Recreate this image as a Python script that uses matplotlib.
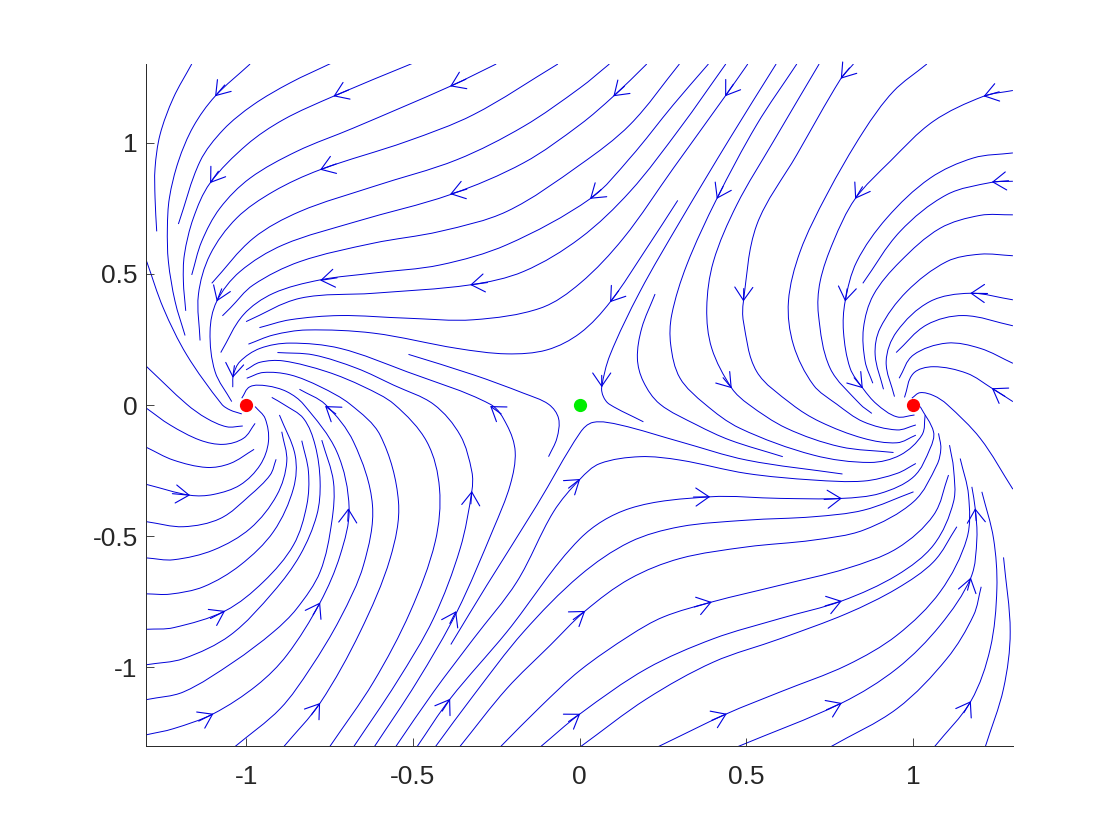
import math
import matplotlib
matplotlib.use('Agg')
import matplotlib.pyplot as plt
from matplotlib.path import Path
from matplotlib.patches import PathPatch

# Streamlines, grouped by where they start
streams_upper_left = [
    [(-1.163, 1.300), (-1.218, 1.171), (-1.258, 1.031), (-1.273, .903), (-1.273, .789), (-1.268, .662)],
    [(-.988, 1.300), (-1.093, 1.177), (-1.158, 1.062), (-1.203, .929), (-1.230, .789), (-1.236, .674), (-1.233, .547), (-1.213, .395), (-1.183, .265)],
    [(-.743, 1.304), (-.868, 1.228), (-.978, 1.145), (-1.068, 1.050), (-1.138, .929), (-1.203, .690)],
    [(-.498, 1.304), (-.738, 1.177), (-.888, 1.088), (-.998, .992), (-1.108, .846), (-1.158, .713), (-1.185, .573), (-1.188, .471), (-1.181, .359)],
    [(-.250, 1.300), (-.388, 1.215), (-.678, 1.056), (-.848, .967), (-.988, .865), (-1.078, .751), (-1.133, .624), (-1.163, .496)],
    [(-.065, 1.300), (-.318, 1.107), (-.518, 1.005), (-.778, .897), (-.918, .814), (-1.028, .713), (-1.108, .573), (-1.143, .420), (-1.138, .246)],
    [(.0895, 1.300), (.0015, 1.209), (-.168, 1.062), (-.368, .935), (-.618, .833), (-.838, .738), (-.978, .636), (-1.103, .464)],
    [(.2015, 1.300), (.1015, 1.177), (.0015, 1.069), (-.168, .923), (-.388, .802), (-.668, .700), (-.888, .611), (-1.018, .509), (-1.088, .395), (-1.108, .280), (-1.093, .127), (-1.043, .013)],
    [(.2995, 1.300), (.1515, 1.069), (.0015, .916), (-.218, .738), (-.418, .662), (-.618, .617), (-.838, .547), (-.978, .458), (-1.048, .369), (-1.071, .340)],
    [(.3865, 1.300), (.2815, 1.145), (.1515, .942), (.0315, .786), (-.218, .611), (-.418, .534), (-.618, .503), (-.778, .477), (-.918, .426), (-1.008, .344), (-1.076, .200)],
    [(.4385, 1.300), (.3015, 1.056), (.1515, .814), (.0015, .636), (-.168, .509), (-.328, .458), (-.618, .426), (-.838, .407), (-1.000, .318)],
    [(.5045, 1.300), (.4365, 1.177), (.2815, .903), (.1315, .636), (.0015, .464), (-.118, .369), (-.318, .325), (-.518, .331), (-.718, .341), (-.868, .325), (-.960, .295)],
    [(.2945, .780), (.2015, .598), (.0915, .392), (.0015, .274), (-.098, .210), (-.218, .195), (-.368, .216), (-.618, .274), (-.818, .286), (-.918, .267), (-.993, .232)],
    [(-.513, .193), (-.318, .115), (-.168, .045), (-.093, .003), (-.063, -.051), (-.068, -.127), (-.093, -.197)],
    [(-1.298, .547), (-1.248, .369), (-1.178, .191), (-1.073, .003), (-1.048, -.019), (-1.013, -.034)],
    [(-1.298, .146), (-1.178, .003), (-1.118, -.051), (-1.058, -.083), (-1.010, -.080)],
]

# these come out of the -1 sink region and run down to the bottom or left edge
streams_lower_left = [
    [(-1.040, .068), (-1.038, .115), (-1.018, .166), (-.958, .216), (-.868, .236), (-.718, .216), (-.518, .127), (-.268, .003), (-.218, -.076), (-.193, -.178), (-.208, -.305), (-.258, -.471), (-.368, -.789), (-.488, -1.056), (-.616, -1.304)],
    [(-.906, .200), (-.798, .191), (-.668, .140), (-.558, .076), (-.438, .003), (-.358, -.115), (-.323, -.254), (-.323, -.328), (-.358, -.547), (-.438, -.814), (-.548, -1.056), (-.678, -1.304)],
    [(-1.000, .134), (-.958, .163), (-.888, .168), (-.758, .127), (-.648, .070), (-.556, .003), (-.458, -.140), (-.420, -.318), (-.433, -.522), (-.508, -.789), (-.618, -1.056), (-.750, -1.304)],
    [(-.998, .102), (-.948, .124), (-.868, .115), (-.778, .070), (-.688, .003), (-.598, -.115), (-.543, -.369), (-.568, -.585), (-.658, -.865), (-.778, -1.136), (-.888, -1.304)],
    [(-.840, .060), (-.763, .003), (-.678, -.140), (-.621, -.382), (-.648, -.611), (-.718, -.814), (-.808, -1.005), (-.898, -1.158), (-1.035, -1.304)],
    [(-1.013, .026), (-.988, .070), (-.938, .073), (-.878, .051), (-.828, .003), (-.728, -.178), (-.691, -.394), (-.718, -.573), (-.778, -.753), (-.878, -.954), (-.968, -1.069), (-1.098, -1.177), (-1.218, -1.234), (-1.298, -1.257)],
    [(-.923, .029), (-.888, .003), (-.828, -.051), (-.793, -.153), (-.778, -.293), (-.788, -.420), (-.838, -.572), (-.918, -.712), (-1.048, -.878), (-1.188, -.967), (-1.298, -.990)],
    [(-1.298, -.013), (-1.228, -.076), (-1.138, -.134), (-1.068, -.150), (-1.008, -.127), (-.973, -.070)],
    [(-1.298, -.162), (-1.218, -.210), (-1.118, -.238), (-1.048, -.223), (-.976, -.169)],
    [(-1.298, -.303), (-1.168, -.344), (-1.098, -.341), (-1.018, -.305), (-.958, -.229), (-.933, -.140), (-.943, -.051), (-.973, -.006)],
    [(-1.298, -.445), (-1.188, -.464), (-1.078, -.433), (-.988, -.344), (-.928, -.267), (-.910, -.207)],
    [(-1.298, -.583), (-1.218, -.590), (-1.098, -.553), (-.988, -.471), (-.908, -.344), (-.878, -.216), (-.893, -.102)],
    [(-1.298, -.720), (-1.228, -.721), (-1.128, -.693), (-1.018, -.611), (-.918, -.483), (-.858, -.318), (-.853, -.191), (-.900, -.038)],
    [(-1.298, -.855), (-1.218, -.849), (-1.063, -.785), (-.948, -.674), (-.858, -.534), (-.818, -.382), (-.813, -.254), (-.833, -.136)],
    [(-1.298, -1.123), (-1.188, -1.094), (-1.038, -.980), (-.918, -.865), (-.848, -.776), (-.778, -.636), (-.743, -.445), (-.738, -.293), (-.773, -.134)],
]

streams_lower_right = [
    [(-.386, -.913), (-.278, -.687), (-.128, -.382), (.002, -.105), (.0415, -.066), (.1215, -.076), (.3015, -.140), (.5015, -.210), (.7885, -.263)],
    [(-.552, -1.304), (-.438, -1.094), (-.318, -.891), (-.188, -.674), (-.078, -.407), (.002, -.282), (.0615, -.223), (.1815, -.197), (.3015, -.210), (.5015, -.261), (.7015, -.286), (.8515, -.290), (.9515, -.261), (1.0085, -.223)],
    [(-.488, -1.304), (-.388, -1.120), (-.218, -.865), (.002, -.509), (.1515, -.394), (.3915, -.350), (.6015, -.356), (.7865, -.356), (.9015, -.337), (1.0015, -.274), (1.0515, -.165), (1.0615, -.102), (1.0215, -.006)],
    [(-.433, -1.304), (-.318, -1.107), (-.168, -.865), (.002, -.649), (.1515, -.522), (.3015, -.464), (.5015, -.439), (.7015, -.426), (.8515, -.401), (1.0015, -.331)],
    [(-.360, -1.304), (-.218, -1.081), (-.088, -.916), (.017, -.785), (.1515, -.662), (.3015, -.585), (.5015, -.541), (.7015, -.515), (.8515, -.477), (1.0015, -.369), (1.0715, -.229), (1.0835, -.165), (1.0765, -.108)],
    [(-.238, -1.304), (-.118, -1.151), (.002, -1.011), (.1515, -.878), (.2515, -.808), (.3965, -.751), (.6015, -.687), (.8015, -.623), (.9515, -.547), (1.0615, -.420), (1.1065, -.267)],
    [(-.118, -1.304), (.002, -1.177), (.2015, -1.005), (.4015, -.891), (.6015, -.814), (.7865, -.747), (.9515, -.649), (1.0615, -.534), (1.1215, -.369), (1.1215, -.242), (1.1095, -.153)],
    [(.0015, -1.304), (.2015, -1.120), (.4015, -.980), (.6015, -.891), (.8015, -.795), (.9515, -.700), (1.0615, -.598), (1.1315, -.464)],
    [(.2335, -1.304), (.4415, -1.177), (.6015, -1.094), (.8015, -.992), (.9515, -.878), (1.0815, -.712), (1.1615, -.509), (1.1665, -.344), (1.1415, -.204)],
    [(.4715, -1.304), (.7865, -1.136), (.9515, -1.005), (1.0815, -.840), (1.1735, -.658), (1.1915, -.509), (1.1865, -.394), (1.1765, -.312)],
    [(.7515, -1.304), (.9515, -1.158), (1.1015, -.967), (1.1815, -.802), (1.2045, -.693)],
    [(1.0635, -1.304), (1.1735, -1.129), (1.2315, -.929), (1.2515, -.700), (1.2415, -.509), (1.2065, -.331)],
    [(1.2165, -1.304), (1.2715, -1.081), (1.2915, -.865), (1.2715, -.581)],
]

streams_upper_right = [
    [(.5895, 1.300), (.4515, 1.018), (.3015, .700), (.1815, .433), (.0915, .191), (.0665, .068), (.0715, .032), (.0895, .003), (.1915, -.064)],
    [(.2265, .423), (.1865, .293), (.1735, .178), (.1915, .089), (.2415, .003), (.3515, -.076), (.4515, -.134), (.6095, -.197)],
    [(.6515, 1.300), (.5315, 1.069), (.4115, .786), (.3215, .534), (.2765, .344), (.2735, .229), (.3015, .102), (.3765, .003), (.4815, -.089), (.7015, -.191), (.8715, -.219), (.9615, -.191), (1.0265, -.115), (1.0365, -.038)],
    [(.7185, 1.300), (.5815, 1.005), (.4715, .763), (.4015, .547), (.3815, .369), (.3965, .216), (.4565, .064), (.5065, .003), (.6215, -.089), (.7815, -.159), (.9415, -.181)],
    [(.8215, 1.300), (.7835, 1.244), (.6515, .954), (.5315, .687), (.4915, .395), (.4915, .318), (.5315, .127), (.6365, .003), (.7215, -.064), (.8515, -.127), (.9515, -.144), (1.0085, -.115)],
    [(1.0415, 1.300), (.9415, 1.196), (.8515, 1.043), (.7415, .802), (.6615, .585), (.6265, .395), (.6415, .229), (.7015, .076), (.7715, .003), (.8515, -.064), (.9515, -.095), (1.0085, -.076)],
    [(1.2995, 1.199), (1.2115, 1.177), (1.0615, 1.082), (.9315, .929), (.8265, .786), (.7615, .624), (.7215, .471), (.7165, .344), (.7515, .140), (.8415, .003), (.8765, -.032)],
    [(1.2995, .961), (1.1815, .942), (1.0515, .865), (.9215, .713), (.8315, .547), (.7965, .395), (.7915, .280), (.8115, .140), (.8495, .064), (.8915, .003), (.9515, -.045), (1.0045, -.038)],
    [(1.2995, .853), (1.2365, .849), (1.1015, .802), (.9615, .662), (.8495, .464)],
    [(1.2995, .725), (1.2015, .723), (1.0815, .674), (.9615, .547), (.8815, .420), (.8515, .293), (.8565, .166), (.8795, .083)],
    [(1.2995, .569), (1.2015, .575), (1.1015, .547), (.9815, .433), (.9015, .293), (.8865, .191), (.9115, .060)],
    [(1.2995, .401), (1.1715, .426), (1.0515, .395), (.9515, .280), (.9195, .166), (.9445, .032)],
    [(1.2995, .302), (1.1515, .341), (1.0415, .306), (.9495, .200)],
    [(1.2995, .159), (1.2015, .216), (1.1015, .236), (1.0015, .191), (.9585, .102)],
    [(1.2995, .013), (1.2365, .064), (1.1615, .121), (1.0615, .146), (1.0015, .121), (.9745, .029)],
    [(.9965, .026), (1.0215, .047), (1.0615, .036), (1.1015, .003), (1.2015, -.127), (1.2995, -.321)],
]

# Arrow heads on the streamlines: tip and a point just behind it
arrow_tips = [
    (-1.093, 1.177), (-1.108, .846), (-.738, 1.177), (-.778, .897), (-.388, 1.215), (-.388, .804), (-.778, .475), (-.328, .458), (-1.088, .395), (-1.040, .104),
    (.1015, 1.177), (.4365, 1.177), (.7835, 1.244), (1.2115, 1.177), (.0315, .786), (.4115, .786), (.8265, .786), (1.2365, .850), (.0915, .392), (.4915, .395), (.7965, .395), (1.1715, .426), (.0665, .068), (.4565, .064), (.8495, .064), (1.2365, .064),
    (-.763, -.004), (-.268, -.004), (-1.168, -.344), (-.323, -.328), (-.693, -.394), (-1.063, -.785), (-.778, -.753), (-.370, -.786), (.002, -.282), (.017, -.785), (-1.098, -1.177), (-.778, -1.136), (-.388, -1.120), (.002, -1.177),
    (.3915, -.350), (.7865, -.356), (.3965, -.751), (.7865, -.747), (.4415, -1.177), (.7865, -1.136), (1.1865, -.394), (1.1735, -.658), (1.1735, -1.129),
]
arrow_tails = [
    (-1.064, 1.220), (-1.083, .891), (-.693, 1.201), (-.730, .919), (-.341, 1.242), (-.338, .823), (-.727, .485), (-.276, .467), (-1.073, .443), (-1.035, .150),
    (.1345, 1.215), (.4615, 1.223), (.8095, 1.285), (1.2585, 1.194), (.0655, .822), (.4305, .833), (.8485, .832), (1.2865, .855), (.1175, .436), (.4925, .444), (.8025, .443), (1.2235, .425), (.0665, .113), (.4305, .104), (.8235, .104), (1.2755, .033),
    (-.731, -.034), (-.235, -.034), (-1.221, -.338), (-.326, -.377), (-.695, -.443), (-1.107, -.814), (-.799, -.800), (-.389, -.833), (-.033, -.317), (-.019, -.818), (-1.142, -1.205), (-.804, -1.181), (-.412, -1.167), (-.033, -1.207),
    (.3415, -.351), (.7335, -.360), (.3445, -.770), (.7365, -.766), (.3965, -1.202), (.7405, -1.162), (1.1895, -.441), (1.1635, -.706), (1.1525, -1.173),
]

sink_x = [-1, 1]
sink_y = [0, 0]
saddle_x = [0]
saddle_y = [0]

x_ticks = [-1, -0.5, 0, 0.5, 1]
x_tick_labels = ['-1', '-0.5', '0', '0.5', '1']
y_ticks = [-1, -0.5, 0, 0.5, 1]
y_tick_labels = ['-1', '-0.5', '0', '0.5', '1']


# Smooth curve through the read points, tangents sized by the segment length
def stream_path(points):
    verts = [points[0]]
    codes = [Path.MOVETO]
    n = len(points)
    for i in range(n - 1):
        p0 = points[max(i - 1, 0)]
        p1 = points[i]
        p2 = points[i + 1]
        p3 = points[min(i + 2, n - 1)]
        seg = math.dist(p1, p2) / 3
        d1 = math.dist(p0, p2)
        d2 = math.dist(p1, p3)
        verts.append((p1[0] + (p2[0] - p0[0]) / d1 * seg, p1[1] + (p2[1] - p0[1]) / d1 * seg))
        verts.append((p2[0] - (p3[0] - p1[0]) / d2 * seg, p2[1] - (p3[1] - p1[1]) / d2 * seg))
        verts.append(p2)
        codes += [Path.CURVE4, Path.CURVE4, Path.CURVE4]
    return Path(verts, codes)


plt.rcParams['font.family'] = ['Liberation Sans', 'DejaVu Sans']

fig = plt.figure(figsize=(11.2, 8.4), dpi=100)
ax = fig.add_axes([0.1304, 0.1119, 0.7741, 0.8119])

for group in [streams_upper_left, streams_lower_left, streams_lower_right, streams_upper_right]:
    for points in group:
        ax.add_patch(PathPatch(stream_path(points), facecolor='none', edgecolor='#0000d8', linewidth=0.7))

for tip, tail in zip(arrow_tips, arrow_tails):
    ax.annotate('', xy=tip, xytext=tail,
                arrowprops=dict(arrowstyle='->,head_length=9.5,head_width=6.5', mutation_scale=1,
                                color='#0000e0', linewidth=0.8, shrinkA=0, shrinkB=0))

ax.plot(sink_x, sink_y, 'o', color='#ff0000', markersize=8.5, zorder=5)
ax.plot(saddle_x, saddle_y, 'o', color='#00ee00', markersize=8.5, zorder=5)

ax.set_xlim(-1.3, 1.3)
ax.set_ylim(-1.3, 1.3)
ax.set_xticks(x_ticks, labels=x_tick_labels)
ax.set_yticks(y_ticks, labels=y_tick_labels)
ax.tick_params(direction='in', length=6, width=0.6, color='#262626', labelcolor='#262626', labelsize=19)
ax.tick_params(axis='x', pad=14)
ax.tick_params(axis='y', pad=6)
ax.spines['top'].set_visible(False)
ax.spines['right'].set_visible(False)
ax.spines['left'].set_linewidth(0.7)
ax.spines['bottom'].set_linewidth(0.7)
ax.spines['left'].set_color('#262626')
ax.spines['bottom'].set_color('#262626')

fig.savefig('out.png', dpi=100)
